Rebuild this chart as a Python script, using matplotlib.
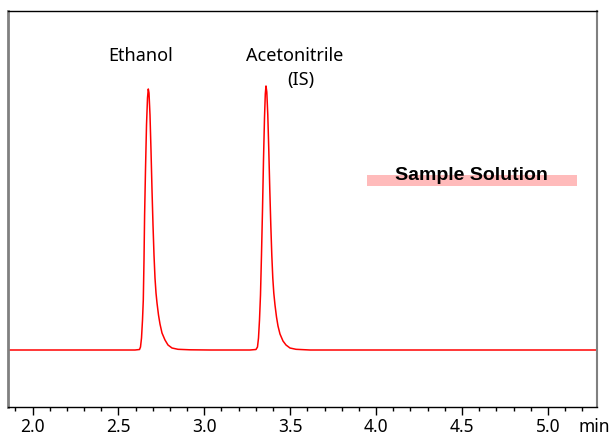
import matplotlib
matplotlib.use("Agg")
import matplotlib.pyplot as plt
import numpy as np
from matplotlib.ticker import MultipleLocator
from matplotlib.patches import Rectangle

plt.rcParams['font.family'] = ['Noto Sans', 'DejaVu Sans']

# chromatogram trace (time in min, signal in arbitrary units)
t_ethanol = [2.5966, 2.6228, 2.6286, 2.6345, 2.6403, 2.6449, 2.6490, 2.6525, 2.6577, 2.6636,
             2.6694, 2.6740, 2.6781, 2.6839, 2.6897, 2.6956, 2.7014, 2.7072, 2.7130, 2.7189,
             2.7247, 2.7334, 2.7421, 2.7538, 2.7712, 2.7887, 2.8120, 2.8469, 2.9168, 3.0332]
s_ethanol = [0, 0.5, 3, 12, 30, 50, 90, 135, 180, 225,
             252, 261, 257, 235, 200, 160, 125, 95, 72, 57,
             47, 35, 26, 17, 10, 5, 2, 0.7, 0.2, 0]

t_acn = [3.2660, 3.3009, 3.3096, 3.3155, 3.3213, 3.3271, 3.3329, 3.3388, 3.3446, 3.3504,
         3.3551, 3.3591, 3.3638, 3.3696, 3.3754, 3.3813, 3.3871, 3.3929, 3.3987, 3.4045,
         3.4115, 3.4203, 3.4290, 3.4406, 3.4581, 3.4756, 3.4988, 3.5338, 3.6153]
s_acn = [0, 0.5, 3, 12, 30, 55, 95, 140, 190, 232,
         256, 264, 258, 235, 200, 160, 125, 95, 72, 57,
         45, 33, 24, 16, 9, 5, 2, 0.7, 0]

t_start, t_end = 1.856, 5.286

time = [t_start] + t_ethanol + t_acn + [t_end]
signal = [0] + s_ethanol + s_acn + [0]

major_ticks = [2.0, 2.5, 3.0, 3.5, 4.0, 4.5, 5.0]
major_labels = ["2.0", "2.5", "3.0", "3.5", "4.0", "4.5", "5.0"]

fig = plt.figure(figsize=(6.12, 4.36), dpi=100)
ax = fig.add_axes([0.0127, 0.0665, 0.9628, 0.9083])

ax.plot(time, signal, color='#ff0000', lw=1.1)
ax.set_xlim(t_start, t_end)
ax.set_ylim(-57, 339)

ax.set_xticks(major_ticks)
ax.set_xticklabels(major_labels, fontsize=12.5)
ax.xaxis.set_minor_locator(MultipleLocator(0.1))
ax.tick_params(axis='x', which='major', direction='out', length=6, width=1, pad=2, colors='black')
ax.tick_params(axis='x', which='minor', direction='out', length=3, width=1)
ax.set_yticks([])

ax.spines['left'].set_color('#808080')
ax.spines['left'].set_linewidth(2)
ax.spines['right'].set_color('#808080')
ax.spines['right'].set_linewidth(1.5)
ax.spines['top'].set_linewidth(1)
ax.spines['bottom'].set_linewidth(1)

fig.text(594 / 612, 1 - 427 / 436, "min", fontsize=12.5, ha='center', va='center')

# peak labels
ax.text(2.628, 294, "Ethanol", fontsize=13, ha='center', va='center')
ax.text(3.524, 294, "Acetonitrile", fontsize=13, ha='center', va='center')
ax.text(3.56, 270, "(IS)", fontsize=13, ha='center', va='center')

# sample solution tag
ax.add_patch(Rectangle((3.947, 164), 1.222, 11, facecolor='#ffbbbb', edgecolor='none'))
ax.text(4.553, 174, "Sample Solution", fontsize=14, fontweight='bold',
        family=['Liberation Sans', 'DejaVu Sans'], ha='center', va='center')

fig.savefig("out.png", dpi=100)
